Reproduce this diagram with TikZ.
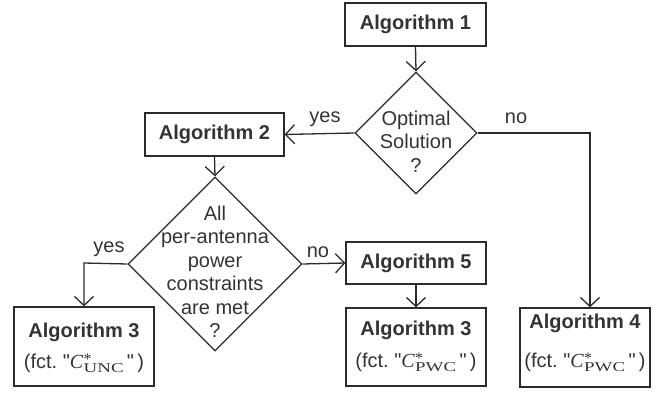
\documentclass[tikz,border=0pt]{standalone}
\usepackage{fontspec}
\usepackage{graphicx}
\setmainfont{Liberation Sans}
\newfontfamily\seriffont{Liberation Serif}
\usetikzlibrary{arrows.meta,shapes.geometric}

% italic C with a star above a stretched upright subscript
\newcommand{\Cstar}[1]{{\seriffont\itshape C}\kern0.5pt%
  \rlap{\raisebox{3.5pt}{\seriffont\fontsize{16}{16}\selectfont *}}%
  \raisebox{-4pt}{\scalebox{1.4}[1]{\seriffont\fontsize{13.5}{13.5}\selectfont #1}}}
\newcommand{\fct}[1]{(fct.~\textquotedbl\Cstar{#1}\,\textquotedbl\,)}

\definecolor{ink}{HTML}{2B2B2B}
\definecolor{txt}{HTML}{333333}

\tikzset{
  stroke/.style={draw=ink, line width=1.3pt},
  algbox/.style={stroke, rectangle, inner sep=0pt},
  decision/.style={stroke, diamond, inner sep=0pt, minimum width=#1, minimum height=#1},
  label/.style={text=txt, inner sep=0pt, font=\fontsize{20}{23.5}\selectfont, align=center},
  bold/.style={label, font=\fontsize{20}{24}\selectfont\bfseries},
  flow/.style={stroke, -{Straight Barb[length=9pt,width=19pt,line width=1.3pt]}},
}

\begin{document}
\begin{tikzpicture}[x=1pt, y=-1pt]
  \useasboundingbox (0,0) rectangle (670,395);

  % boxes
  \node[algbox, minimum width=141, minimum height=43] (a1) at (415.5,24.5) {};
  \node[algbox, minimum width=139, minimum height=43] (a2) at (214.5,134.5) {};
  \node[algbox, minimum width=140, minimum height=42] (a5) at (416,263) {};
  \node[algbox, minimum width=140, minimum height=79] (a3l) at (84,346.5) {};
  \node[algbox, minimum width=140, minimum height=78] (a3r) at (416,347) {};
  \node[algbox, minimum width=130, minimum height=79] (a4) at (585,347.5) {};

  % decisions
  \node[decision=122] (d1) at (416,133) {};
  \node[decision=174] (d2) at (215,264) {};

  % box captions
  \node[bold] (t1) at (a1.center) {Algorithm 1};
  \node[bold] (t2) at (a2.center) {Algorithm 2};
  \node[bold] (t5) at (a5.center) {Algorithm 5};
  \node[bold] (t3l) at (84,332) {Algorithm 3};
  \node[label] (f3l) at (84,363) {\fct{UNC}};
  \node[bold] (t3r) at (416,330) {Algorithm 3};
  \node[label] (f3r) at (416,362) {\fct{PWC}};
  \node[bold] (t4) at (585,323) {Algorithm 4};
  \node[label] (f4) at (585,362) {\fct{PWC}};

  % decision texts
  \node[label] (q1) at (416,141.5) {Optimal\\Solution\\?};
  \node[label] (q2) at (215,272) {All\\per-antenna\\power\\constraints\\are met\\?};

  % branch labels
  \node[label] (y1) at (325,119) {yes};
  \node[label] (n1) at (516,118) {no};
  \node[label] (y2) at (109,249) {yes};
  \node[label] (n2) at (318,252) {no};

  % bends of the connectors
  \coordinate (c1) at (590,133);
  \coordinate (c2) at (84,263);

  % connectors
  \draw[flow] (a1.south) -- (d1.north);
  \draw[flow] (d1.west) -- (a2.east);
  \draw[flow] (a2.south) -- (d2.north);
  \draw[flow] (d2.east) -- (a5.west);
  \draw[flow] (a5.south) -- (a3r.north);
  \draw[flow] (d2.west) -- (c2) -- (a3l.north);
  \draw[flow] (d1.east) -- (c1) -- (c1 |- a4.north);
\end{tikzpicture}
\end{document}
